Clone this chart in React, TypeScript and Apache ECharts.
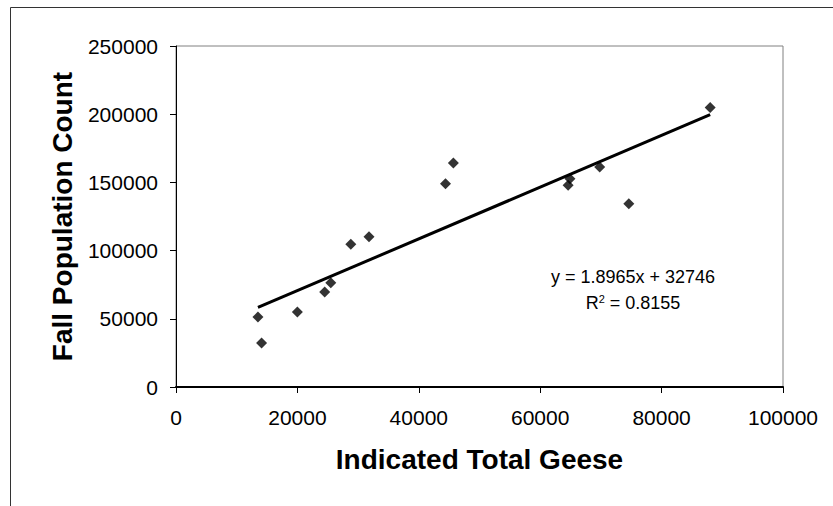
import React, { useEffect, useRef } from "react";
import * as echarts from "echarts";

const geeseX = [13500, 14100, 20000, 24500, 25500, 28800, 31800, 44400, 45700, 64600, 64900, 69800, 74600, 88000];
const fallCount = [51300, 32300, 55000, 69600, 76500, 104600, 110200, 149100, 164200, 148000, 152700, 161300, 134400, 205000];

const trendSlope = 1.8965;
const trendIntercept = 32746;
const trendRange = [13500, 88000];
const equationText = "y = 1.8965x + 32746";
const r2Text = "0.8155";

const xTitle = "Indicated Total Geese";
const yTitle = "Fall Population Count";

const FONT = '"Liberation Sans", Arial, sans-serif';

export default function App() {
  const ref = useRef<HTMLDivElement>(null);
  useEffect(() => {
    if (!ref.current) return;
    const chart = echarts.init(ref.current, null, { renderer: "svg" });
    const trendData = trendRange.map((x) => [x, trendSlope * x + trendIntercept]);
    chart.setOption({
      animation: false,
      backgroundColor: "#ffffff",
      textStyle: { fontFamily: FONT },
      grid: {
        left: 176,
        top: 46,
        right: 50,
        bottom: 119,
        show: true,
        borderColor: "#808080",
        borderWidth: 1,
        containLabel: false,
      },
      xAxis: {
        type: "value",
        min: 0,
        max: 100000,
        interval: 20000,
        name: xTitle,
        nameLocation: "middle",
        nameGap: 58,
        nameTextStyle: { fontSize: 28, fontWeight: "bold", color: "#000", fontFamily: FONT },
        axisLine: { show: true, onZero: false, lineStyle: { color: "#000", width: 2 } },
        axisTick: { show: true, inside: false, length: 6, lineStyle: { color: "#000", width: 1 } },
        axisLabel: { fontSize: 21, color: "#000", margin: 20, fontFamily: FONT, formatter: (v: number) => String(v) },
        splitLine: { show: false },
      },
      yAxis: {
        type: "value",
        min: 0,
        max: 250000,
        interval: 50000,
        name: yTitle,
        nameLocation: "middle",
        nameGap: 100,
        nameRotate: 90,
        nameTextStyle: { fontSize: 28, fontWeight: "bold", color: "#000", fontFamily: FONT },
        axisLine: { show: true, onZero: false, lineStyle: { color: "#000", width: 1 } },
        axisTick: { show: true, inside: false, length: 6, lineStyle: { color: "#000", width: 1 } },
        axisLabel: { fontSize: 21, color: "#000", margin: 18, fontFamily: FONT, formatter: (v: number) => String(v) },
        splitLine: { show: false },
      },
      series: [
        {
          type: "line",
          data: trendData,
          showSymbol: false,
          symbol: "none",
          lineStyle: { color: "#000", width: 3 },
          z: 2,
        },
        {
          type: "scatter",
          data: geeseX.map((x, i) => [x, fallCount[i]]),
          symbol: "diamond",
          symbolSize: [11, 11],
          itemStyle: { color: "#000" },
          z: 3,
        },
      ],
      graphic: [
        {
          type: "rect",
          left: 8,
          top: 5,
          shape: { width: 900, height: 600 },
          style: { fill: "none", stroke: "#333", lineWidth: 1 },
          silent: true,
          z: -10,
        },
        {
          type: "text",
          x: 633,
          y: 277,
          style: {
            text: equationText,
            font: `18px ${FONT}`,
            fill: "#000",
            align: "center",
            verticalAlign: "middle",
          },
        },
        {
          type: "text",
          x: 633,
          y: 303,
          style: {
            text: "R{sup|2} = " + r2Text,
            font: `18px ${FONT}`,
            fill: "#000",
            align: "center",
            verticalAlign: "middle",
            rich: {
              sup: { fontSize: 11, fontFamily: FONT, verticalAlign: "top", padding: [0, 0, 8, 0] },
            },
          },
        },
      ],
    });
    return () => chart.dispose();
  }, []);
  return (
    <div
      ref={ref}
      style={{ position: "fixed", left: 0, top: 0, width: 833, height: 506 }}
    />
  );
}
